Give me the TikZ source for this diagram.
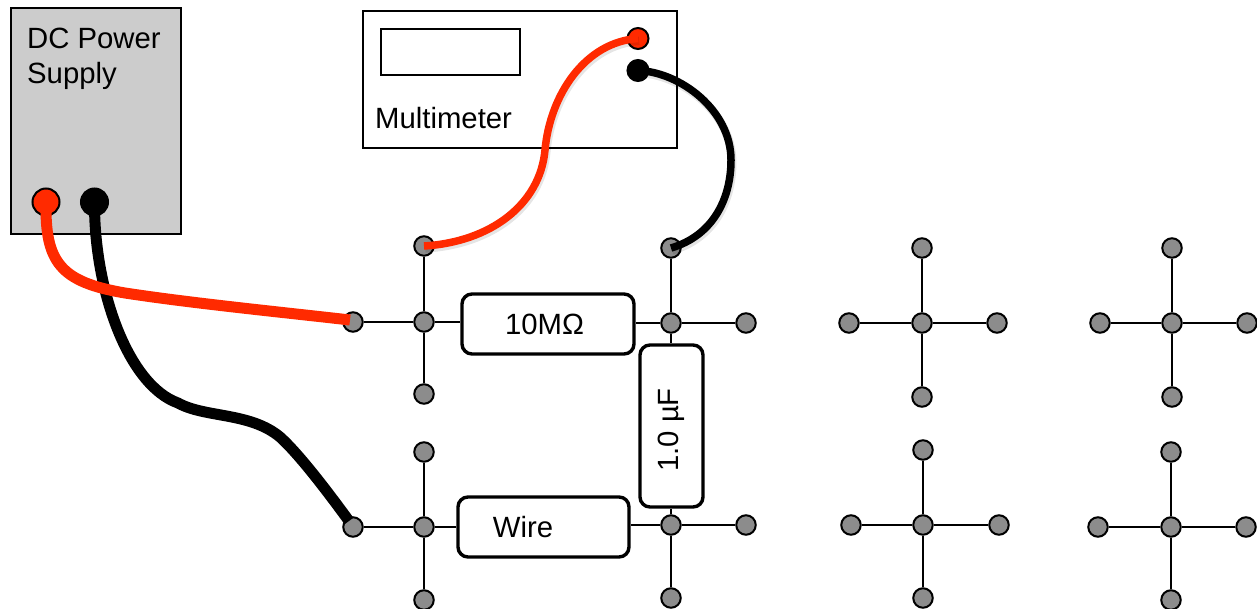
\documentclass[tikz,border=0pt]{standalone}
\usepackage{fontspec}
\setmainfont{Liberation Sans}
\definecolor{wirered}{HTML}{FF2A00}
\definecolor{pingray}{HTML}{8C8C8C}
\definecolor{boxgray}{HTML}{CCCCCC}
\newcommand{\pinat}[3]{\node[pin] (#1) at (#2,#3) {};}
\newcommand{\padright}[1]{\rule{#1}{0pt}}
\begin{document}
\begin{tikzpicture}[x=1pt,y=-1pt,
  pin/.style={circle,draw=black,fill=pingray,line width=2pt,minimum size=19.5pt,inner sep=0pt},
  link/.style={draw=black,line width=2pt},
  comp/.style={draw=black,line width=3.4pt,rounded corners=10pt,fill=white,inner sep=0pt,font=\fontsize{29.3}{29.3}\selectfont},
  lbl/.style={anchor=base west,inner sep=0pt,font=\fontsize{29.3}{29.3}\selectfont},
  thick wire/.style={line width=11pt},
  thin wire/.style={line width=7.5pt,preaction={draw=black,opacity=.10,line width=8.5pt,transform canvas={shift={(1.2pt,-2.4pt)}}}},
  jackbig/.style={circle,draw=black,line width=2pt,inner sep=0pt,minimum size=27pt},
  jacksmall/.style={circle,draw=black,line width=2pt,inner sep=0pt,minimum size=21pt}]
\useasboundingbox (0,0) rectangle (1257,609);

% instruments
\node[draw=black,fill=boxgray,line width=2pt,minimum width=170pt,minimum height=226pt,inner sep=0pt] (psu) at (96,121) {};
\node[lbl] (psutxt1) at (27,49) {DC Power};
\node[lbl] (psutxt2) at (27,84) {Supply};
\node[draw=black,line width=2pt,minimum width=314pt,minimum height=137pt,inner sep=0pt] (dmm) at (520,79.5) {};
\node[draw=black,line width=2pt,minimum width=139pt,minimum height=46pt,inner sep=0pt] (disp) at (450.5,52) {};
\node[lbl] (dmmtxt) at (375,128.5) {Multimeter};

% components
\node[comp,minimum width=172pt,minimum height=60pt] (res) at (548,324) {10MΩ\padright{7pt}};
\node[comp,minimum width=171pt,minimum height=60pt] (wbox) at (543.5,527) {Wire\padright{41pt}};
\node[comp,rotate=90,minimum width=162pt,minimum height=63pt] (cap) at (671.5,426) {1.0 µF\padright{8pt}};

% pins
\pinat{ac}{424}{322}\pinat{al}{353}{322}\pinat{at}{424}{246}\pinat{ab}{424}{394}
\pinat{bc}{671}{323}\pinat{br}{746}{323}\pinat{bt}{671}{248}
\pinat{cc}{922}{323}\pinat{cl}{849}{323}\pinat{cr}{997}{323}\pinat{ct}{922}{248}\pinat{cb}{922}{397}
\pinat{dc}{1172}{323}\pinat{dl}{1100}{323}\pinat{dr}{1247}{323}\pinat{dt}{1172}{248}\pinat{db}{1172}{397}
\pinat{ec}{424}{527}\pinat{el}{353}{527}\pinat{et}{424}{452}\pinat{eb}{424}{600}
\pinat{fc}{671}{525}\pinat{fr}{746}{525}\pinat{fb}{671}{598}
\pinat{gc}{923}{525}\pinat{gl}{851}{525}\pinat{gr}{999}{525}\pinat{gt}{923}{450}\pinat{gb}{923}{598}
\pinat{hc}{1171}{527}\pinat{hl}{1098}{527}\pinat{hr}{1246}{527}\pinat{ht}{1171}{452}\pinat{hb}{1171}{600}

% links
\foreach \a/\b in {ac/al,ac/at,ac/ab,bc/br,bc/bt,
  cc/cl,cc/cr,cc/ct,cc/cb,dc/dl,dc/dr,dc/dt,dc/db,
  ec/el,ec/et,ec/eb,fc/fr,fc/fb,
  gc/gl,gc/gr,gc/gt,gc/gb,hc/hl,hc/hr,hc/ht,hc/hb}
  \draw[link] (\a) -- (\b);
\draw[link] (ac) -- (ac-|res.west);
\draw[link] (bc) -- (bc-|res.east);
\draw[link] (ec) -- (ec-|wbox.west);
\draw[link] (fc) -- (fc-|wbox.east);
\draw[link] (bc) -- (bc|-cap.east);
\draw[link] (fc) -- (fc|-cap.west);

% jacks
\node[jackbig,fill=wirered] (psr) at (46,202) {};
\node[jackbig,fill=black] (psb) at (94.5,202) {};
\node[jacksmall,fill=wirered] (dmr) at (638,38.5) {};
\node[jacksmall,fill=black] (dmb) at (638,70.5) {};

% leads
\coordinate (redend) at (350,320);
\coordinate (blackend) at (349,521);
\coordinate (bmid) at (178,403);
\coordinate (rmid) at (545,150);
\coordinate (kmid) at (731,160);
\draw[black,thick wire] (psb.center) .. controls (94,290) and (128,385) .. (bmid)
   .. controls (205,418) and (250,412) .. (280,437) .. controls (300,455) and (330,495) .. (blackend);
\draw[wirered,thick wire] (psr.center) .. controls (45,262) and (60,282) .. (125,293)
   .. controls (190,303) and (280,312) .. (redend);
\draw[wirered,thin wire] (at.center) .. controls (490,242) and (540,205) .. (rmid)
   .. controls (550,95) and (585,42) .. (dmr.center);
\draw[black,thin wire] (dmb.center) .. controls (680,72) and (731,110) .. (kmid)
   .. controls (731,200) and (712,236) .. (bt.center);
\end{tikzpicture}
\end{document}
